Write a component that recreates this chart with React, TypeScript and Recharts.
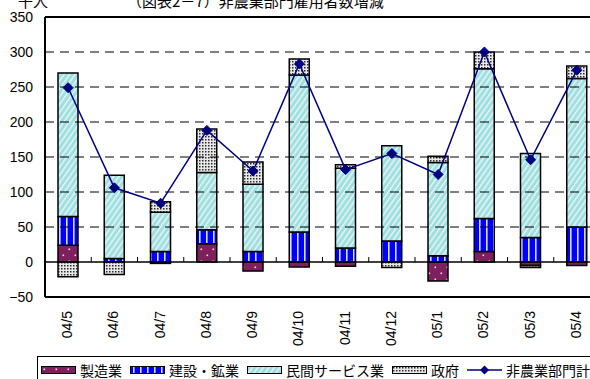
import React from 'react';
import {
  ComposedChart,
  Bar,
  Line,
  XAxis,
  YAxis,
  ReferenceLine,
} from 'recharts';

// Monthly change in nonfarm payrolls (thousands), by sector
const months = ['04/5', '04/6', '04/7', '04/8', '04/9', '04/10', '04/11', '04/12', '05/1', '05/2', '05/3', '05/4'];
const manufacturing = [24, 0, -2, 26, -13, -7, -6, 0, -27, 15, -5, -5];
const construction = [41, 5, 15, 20, 15, 43, 20, 30, 9, 47, 35, 50];
const services = [205, 119, 56, 82, 96, 224, 114, 136, 133, 214, 120, 212];
const government = [-21, -18, 15, 62, 32, 23, 5, -8, 9, 24, -3, 18];
const nonfarmTotal = [249, 106, 84, 188, 130, 283, 132, 155, 125, 300, 146, 274];

const yTicks = [-50, 0, 50, 100, 150, 200, 250, 300, 350];
const gridValues = [50, 100, 150, 200, 250, 300];

const seriesNames = {
  manufacturing: '製造業',
  construction: '建設・鉱業',
  services: '民間サービス業',
  government: '政府',
  total: '非農業部門計',
};

const title = '（図表2－7）非農業部門雇用者数増減';
const unit = '千人';

const data = months.map((m, i) => ({
  month: m,
  manufacturing: manufacturing[i],
  construction: construction[i],
  services: services[i],
  government: government[i],
  total: nonfarmTotal[i],
}));

const NUM_FONT = '"Liberation Sans", Arial, sans-serif';
const JP_FONT = '"Noto Sans CJK JP", "Noto Sans", sans-serif';
const LINE_COLOR = '#000080';

const fills = {
  manufacturing: 'url(#patMfg)',
  construction: 'url(#patCon)',
  services: 'url(#patSvc)',
  government: 'url(#patGov)',
};

const PatternDefs = () => (
  <svg width={0} height={0} style={{ position: 'absolute' }}>
    <defs>
      <pattern id="patMfg" width="12" height="12" patternUnits="userSpaceOnUse">
        <rect width="12" height="12" fill="#7E1F5E" />
        <rect x="2.5" y="2.5" width="1.6" height="1.6" fill="#f4d8ea" />
        <rect x="8.5" y="8.5" width="1.6" height="1.6" fill="#f4d8ea" />
      </pattern>
      <pattern id="patCon" width="7" height="7" patternUnits="userSpaceOnUse">
        <rect width="7" height="7" fill="#0000FF" />
        <rect x="3" y="0" width="1.6" height="7" fill="#d8dcff" />
      </pattern>
      <pattern id="patSvc" width="4.5" height="4.5" patternUnits="userSpaceOnUse" patternTransform="rotate(35)">
        <rect width="4.5" height="4.5" fill="#A0DEDF" />
        <rect x="0" y="0" width="1.4" height="4.5" fill="#E6F7F7" />
      </pattern>
      <pattern id="patGov" width="3" height="3" patternUnits="userSpaceOnUse">
        <rect width="3" height="3" fill="#e8e8e8" />
        <rect x="1" y="1" width="1.5" height="1.5" fill="#2a2a2a" />
      </pattern>
    </defs>
  </svg>
);

const Diamond = (props: any) => {
  const { cx, cy } = props;
  if (cx == null || cy == null) return null;
  const r = 5;
  return (
    <polygon
      points={`${cx},${cy - r} ${cx + r},${cy} ${cx},${cy + r} ${cx - r},${cy}`}
      fill={LINE_COLOR}
      stroke={LINE_COLOR}
      strokeWidth={1}
    />
  );
};

const MonthTick = (props: any) => {
  const { x, y, payload } = props;
  return (
    <text
      transform={`translate(${x + 4}, ${y + 14}) rotate(-90)`}
      textAnchor="end"
      fontFamily={NUM_FONT}
      fontSize={14}
      fill="#000"
    >
      {payload.value}
    </text>
  );
};

// Zero line with small tick marks at the category boundaries
const ZeroAxis = (props: any) => {
  const { x1, x2, y1 } = props;
  if (x1 == null) return null;
  const step = (x2 - x1) / months.length;
  const marks = months.slice(1).map((_, i) => x1 + step * (i + 1));
  return (
    <g>
      <line x1={x1} x2={x2} y1={y1} y2={y1} stroke="#000" strokeWidth={1.5} />
      {marks.map((mx, i) => (
        <line key={i} x1={mx} x2={mx} y1={y1} y2={y1 - 5} stroke="#000" strokeWidth={1} />
      ))}
    </g>
  );
};

const fmtY = (v: number) => (v < 0 ? `−${Math.abs(v)}` : `${v}`);

const Swatch = ({ fill }: { fill: string }) => (
  <svg width={35} height={8} style={{ display: 'block' }}>
    <rect x={0.5} y={0.5} width={34} height={7} fill={fill} stroke="#000" strokeWidth={1} />
  </svg>
);

const LineSwatch = () => (
  <svg width={35} height={12} style={{ display: 'block' }}>
    <line x1={0} x2={35} y1={6} y2={6} stroke={LINE_COLOR} strokeWidth={1.5} />
    <polygon points="17.5,1.5 22,6 17.5,10.5 13,6" fill={LINE_COLOR} />
  </svg>
);

const legendItems = [
  { key: 'manufacturing', label: seriesNames.manufacturing },
  { key: 'construction', label: seriesNames.construction },
  { key: 'services', label: seriesNames.services },
  { key: 'government', label: seriesNames.government },
];

export default function App() {
  return (
    <div
      style={{
        position: 'absolute',
        left: 0,
        top: 0,
        width: 590,
        height: 379,
        overflow: 'hidden',
        background: '#fff',
      }}
    >
      <PatternDefs />
      <ComposedChart
        width={606}
        height={379}
        data={data}
        stackOffset="sign"
        margin={{ top: 17, right: 6, left: 0, bottom: 22 }}
      >
        <XAxis
          dataKey="month"
          height={60}
          tickLine={false}
          tickSize={0}
          tickMargin={0}
          axisLine={{ stroke: '#000', strokeWidth: 2 }}
          tick={<MonthTick />}
          interval={0}
        />
        <YAxis
          width={45}
          domain={[-50, 350]}
          ticks={yTicks}
          tickFormatter={fmtY}
          tickLine={false}
          tickSize={0}
          tickMargin={12}
          axisLine={{ stroke: '#000', strokeWidth: 2 }}
          tick={{ fontFamily: NUM_FONT, fontSize: 14, fill: '#000' }}
          interval={0}
        />
        {gridValues.map((v) => (
          <ReferenceLine key={v} y={v} stroke="#000" strokeWidth={1} strokeDasharray="9 6" />
        ))}
        <ReferenceLine y={350} stroke="#000" strokeWidth={2} />
        <Bar dataKey="manufacturing" stackId="s" barSize={20} fill={fills.manufacturing} stroke="#000" strokeWidth={1.5} isAnimationActive={false} />
        <Bar dataKey="construction" stackId="s" barSize={20} fill={fills.construction} stroke="#000" strokeWidth={1.5} isAnimationActive={false} />
        <Bar dataKey="services" stackId="s" barSize={20} fill={fills.services} stroke="#000" strokeWidth={1.5} isAnimationActive={false} />
        <Bar dataKey="government" stackId="s" barSize={20} fill={fills.government} stroke="#000" strokeWidth={1.5} isAnimationActive={false} />
        <ReferenceLine y={0} shape={<ZeroAxis />} />
        <Line
          dataKey="total"
          type="linear"
          stroke={LINE_COLOR}
          strokeWidth={1.5}
          dot={<Diamond />}
          activeDot={false}
          isAnimationActive={false}
        />
      </ComposedChart>

      <svg
        width={590}
        height={379}
        style={{ position: 'absolute', left: 0, top: 0, pointerEvents: 'none' }}
      >
        <text x={18} y={7} fontFamily={JP_FONT} fontSize={15} fill="#000">
          {unit}
        </text>
        <text x={127} y={7} fontFamily={JP_FONT} fontSize={15} fill="#000">
          {title}
        </text>
      </svg>

      <div
        style={{
          position: 'absolute',
          left: 37,
          top: 356,
          width: 600,
          height: 40,
          border: '1px solid #000',
          boxSizing: 'border-box',
          display: 'flex',
          alignItems: 'flex-start',
          paddingLeft: 3,
          paddingTop: 5,
          fontFamily: JP_FONT,
          fontSize: 14,
          lineHeight: '16px',
          color: '#000',
          whiteSpace: 'nowrap',
        }}
      >
        {legendItems.map((it) => (
          <div key={it.key} style={{ display: 'flex', alignItems: 'center', marginRight: 8 }}>
            <Swatch fill={(fills as any)[it.key]} />
            <span style={{ marginLeft: 4 }}>{it.label}</span>
          </div>
        ))}
        <div style={{ display: 'flex', alignItems: 'center' }}>
          <LineSwatch />
          <span style={{ marginLeft: 4 }}>{seriesNames.total}</span>
        </div>
      </div>
    </div>
  );
}
